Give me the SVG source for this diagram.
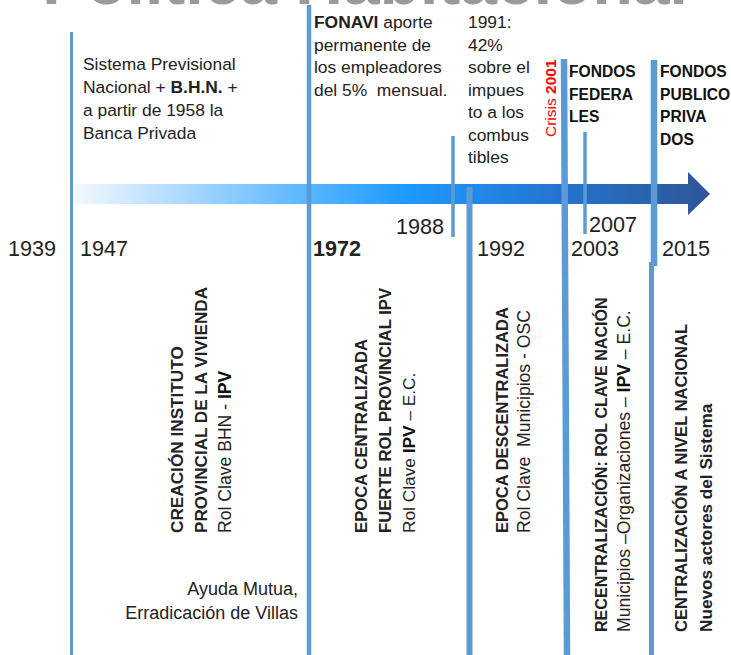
<svg xmlns="http://www.w3.org/2000/svg" width="731" height="655" viewBox="0 0 731 655">
<style>
  text { font-family: "Liberation Sans", Arial, sans-serif; fill: #222; white-space: pre; }
  .b { font-weight: bold; }
  .t { font-size: 17.4px; }
  .yr { font-size: 21.6px; }
  .fd { font-size: 15.6px; font-weight: bold; fill: #111; }
  .vl { stroke: #5b9bd5; fill: none; }
  .title { font-size: 66px; font-weight: bold; fill: #9a9a9a; }
</style>
<defs>
  <linearGradient id="arrowGrad" x1="72" y1="0" x2="710" y2="0" gradientUnits="userSpaceOnUse">
    <stop offset="0" stop-color="#f4f9ff"/>
    <stop offset="0.25" stop-color="#8ccbff"/>
    <stop offset="0.52" stop-color="#1c9bff"/>
    <stop offset="0.75" stop-color="#2476d2"/>
    <stop offset="1" stop-color="#2f5597"/>
  </linearGradient>
</defs>
<rect width="731" height="655" fill="#ffffff"/>

<g id="title">
  <text class="title" x="365" y="4" text-anchor="middle">Política Habitacional</text>
</g>

<g id="timeline-arrow">
  <path d="M74,184 L688,184 L688,172 L710,194 L688,215 L688,204 L74,204 Z" fill="url(#arrowGrad)"/>
</g>

<g id="connectors">
  <line class="vl" x1="71.5" y1="32" x2="71.5" y2="655" stroke-width="3"/>
  <line class="vl" x1="309" y1="5" x2="309" y2="655" stroke-width="4.5"/>
  <line class="vl" x1="453" y1="136" x2="453" y2="237" stroke-width="3.5"/>
  <line class="vl" x1="469.5" y1="187" x2="469.5" y2="655" stroke-width="6"/>
  <line class="vl" x1="564" y1="59" x2="567" y2="655" stroke-width="6.5"/>
  <line class="vl" x1="585" y1="132" x2="585" y2="234" stroke-width="3.5"/>
  <line class="vl" x1="654" y1="60" x2="654" y2="266" stroke-width="6.5"/>
  <line class="vl" x1="651.5" y1="262" x2="651.5" y2="655" stroke-width="5"/>
</g>

<g id="years">
  <text class="yr" x="8" y="256">1939</text>
  <text class="yr" x="80" y="256">1947</text>
  <text class="yr b" x="313" y="256" fill="#111">1972</text>
  <text class="yr" x="396" y="234">1988</text>
  <text class="yr" x="477" y="256">1992</text>
  <text class="yr" x="589" y="232">2007</text>
  <text class="yr" x="571" y="256">2003</text>
  <text class="yr" x="662" y="256">2015</text>
</g>

<g id="note-1947">
  <text class="t" x="83" y="70">Sistema Previsional</text>
  <text class="t" x="83" y="93">Nacional + <tspan class="b">B.H.N.</tspan> +</text>
  <text class="t" x="83" y="116">a partir de 1958 la</text>
  <text class="t" x="83" y="139">Banca Privada</text>
</g>

<g id="note-1972">
  <text class="t" x="314" y="28"><tspan class="b">FONAVI</tspan> aporte</text>
  <text class="t" x="314" y="50.5">permanente de</text>
  <text class="t" x="314" y="73">los empleadores</text>
  <text class="t" x="314" y="95.5">del 5%  mensual.</text>
</g>

<g id="note-1991">
  <text class="t" x="468" y="28">1991:</text>
  <text class="t" x="468" y="50.5">42%</text>
  <text class="t" x="468" y="73">sobre el</text>
  <text class="t" x="468" y="95.5">impues</text>
  <text class="t" x="468" y="118">to a los</text>
  <text class="t" x="468" y="140.5">combus</text>
  <text class="t" x="468" y="163">tibles</text>
</g>

<g id="crisis-2001">
  <text transform="translate(556,137) rotate(-90)" font-size="15.5" style="fill:#ff0000">Crisis <tspan class="b" style="fill:#ff0000">2001</tspan></text>
</g>

<g id="fondos-federales">
  <text class="fd" x="569" y="77">FONDOS</text>
  <text class="fd" x="569" y="99.5">FEDERA</text>
  <text class="fd" x="569" y="122">LES</text>
</g>

<g id="fondos-publico-privados">
  <text class="fd" x="660" y="77">FONDOS</text>
  <text class="fd" x="660" y="99.5">PUBLICO</text>
  <text class="fd" x="660" y="122">PRIVA</text>
  <text class="fd" x="660" y="145">DOS</text>
</g>

<g id="period-1947">
  <text class="b" transform="translate(183,533) rotate(-90)" font-size="17.2" fill="#111">CREACIÓN INSTITUTO</text>
  <text class="b" transform="translate(207,533) rotate(-90)" font-size="17.1" fill="#111">PROVINCIAL DE LA VIVIENDA</text>
  <text transform="translate(231,533) rotate(-90)" font-size="17.6">Rol Clave BHN - <tspan class="b" fill="#111">IPV</tspan></text>
  <text x="298" y="595" text-anchor="end" font-size="18">Ayuda Mutua,</text>
  <text x="298" y="619" text-anchor="end" font-size="18">Erradicación de Villas</text>
</g>

<g id="period-1972">
  <text class="b" transform="translate(367,533) rotate(-90)" font-size="16.7" fill="#111">EPOCA CENTRALIZADA</text>
  <text class="b" transform="translate(391,533) rotate(-90)" font-size="16.7" fill="#111">FUERTE ROL PROVINCIAL IPV</text>
  <text transform="translate(415,533) rotate(-90)" font-size="17.3">Rol Clave <tspan class="b" fill="#111">IPV</tspan> – E.C.</text>
</g>

<g id="period-1992">
  <text class="b" transform="translate(508,533) rotate(-90)" font-size="16.5" fill="#111">EPOCA DESCENTRALIZADA</text>
  <text transform="translate(530,533) rotate(-90)" font-size="17.6">Rol Clave  Municipios - OSC</text>
</g>

<g id="period-2003">
  <text class="b" transform="translate(607,632) rotate(-90)" font-size="16.1" fill="#111">RECENTRALIZACIÓN: ROL CLAVE NACIÓN</text>
  <text transform="translate(630,632) rotate(-90)" font-size="17.6">Municipios –Organizaciones – <tspan class="b" fill="#111">IPV</tspan> – E.C.</text>
</g>

<g id="period-2015">
  <text class="b" transform="translate(687,632) rotate(-90)" font-size="16.6" fill="#111">CENTRALIZACIÓN A NIVEL NACIONAL</text>
  <text class="b" transform="translate(712,632) rotate(-90)" font-size="17.2" fill="#111">Nuevos actores del Sistema</text>
</g>
</svg>
